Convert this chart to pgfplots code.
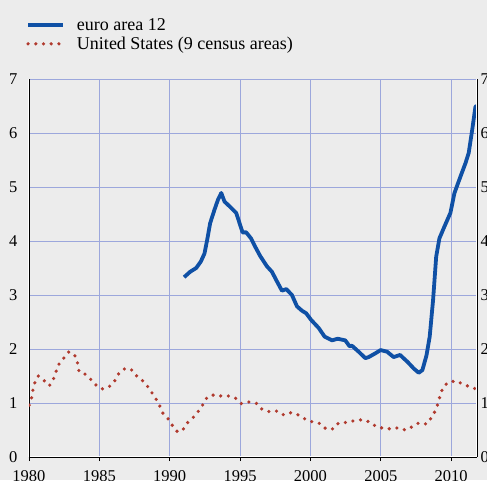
\documentclass[border=0pt]{standalone}
\usepackage{fontspec}
\setmainfont{Liberation Serif}
\usepackage{pgfplots}
\pgfplotsset{compat=1.18}
\definecolor{bg}{RGB}{236,236,236}
\definecolor{gridc}{RGB}{156,167,220}
\definecolor{euro}{RGB}{15,80,165}
\definecolor{usc}{RGB}{176,58,46}
\begin{document}
\begin{tikzpicture}
\fill[bg] (-29pt,-23pt) rectangle (458pt,457pt);
\begin{axis}[
  at={(0,0)}, anchor=south west,
  scale only axis, width=448pt, height=378pt,
  xmin=1980, xmax=2011.83, ymin=0, ymax=7,
  axis x line*=bottom, axis y line*=left,
  axis line style={black, line width=0.8pt, preaction={draw=white, line width=2.4pt}},
  xtick={1980,1985,...,2010}, ytick={0,1,...,7},
  xticklabels={\textrm{1980},\textrm{1985},\textrm{1990},\textrm{1995},\textrm{2000},\textrm{2005},\textrm{2010}},
  yticklabels={\textrm{0},\textrm{1},\textrm{2},\textrm{3},\textrm{4},\textrm{5},\textrm{6},\textrm{7}},
  grid=major, major grid style={gridc, line width=0.8pt},
  tick align=outside, major tick length=4pt,
  xtick style={black, line width=0.8pt},
  ytick style={draw=none},
  ticklabel style={font=\fontsize{16.5}{18}\selectfont},
  xticklabel style={yshift=-6pt},
  yticklabel style={xshift=-4pt},
  legend style={draw=none, fill=none, font=\fontsize{18}{21}\selectfont,
    at={(0,1)}, anchor=south west, xshift=-6pt, yshift=24pt,
    row sep=1pt, column sep=10pt},
  legend cell align=left,
  legend image code/.code={\draw[#1] (0pt,0pt) -- (35pt,0pt);},
]
\addplot[euro, line width=3.8pt, line join=round] coordinates {
(1991.02,3.33) (1991.45,3.43) (1991.88,3.50) (1992.21,3.62) (1992.47,3.77)
(1992.68,4.05) (1992.87,4.33) (1993.18,4.58) (1993.42,4.76) (1993.66,4.89)
(1993.89,4.73) (1994.30,4.63) (1994.72,4.52) (1994.96,4.33) (1995.17,4.16)
(1995.43,4.16) (1995.77,4.05) (1996.12,3.87) (1996.43,3.72) (1996.91,3.53)
(1997.26,3.43) (1997.62,3.25) (1997.97,3.08) (1998.28,3.11) (1998.68,3.00)
(1999.04,2.79) (1999.39,2.71) (1999.70,2.66) (2000.04,2.54) (2000.58,2.39)
(2001.00,2.23) (2001.53,2.16) (2001.93,2.19) (2002.47,2.16) (2002.78,2.05)
(2002.95,2.06) (2003.42,1.95) (2003.90,1.83) (2004.13,1.85) (2004.61,1.92)
(2004.98,1.98) (2005.44,1.95) (2005.91,1.85) (2006.36,1.89) (2006.90,1.76)
(2007.33,1.64) (2007.69,1.56) (2007.95,1.61) (2008.24,1.88) (2008.47,2.23)
(2008.71,2.91) (2008.93,3.71) (2009.16,4.05) (2009.52,4.27) (2009.94,4.52)
(2010.23,4.89) (2010.65,5.19) (2011.01,5.44) (2011.24,5.63) (2011.49,6.06)
(2011.72,6.49) (2011.83,6.50)
};
\addlegendentry{euro area 12}
\addplot[usc, line width=3.6pt, line cap=round, dash pattern=on 0pt off 7.7pt] coordinates {
(1980.02,0.96) (1980.19,1.10) (1980.28,1.25) (1980.43,1.39) (1980.66,1.50)
(1981.09,1.41) (1981.45,1.32) (1981.73,1.44) (1981.92,1.58) (1982.13,1.72)
(1982.47,1.83) (1982.84,1.95) (1983.29,1.87) (1983.46,1.73) (1983.56,1.58)
(1983.91,1.55) (1984.34,1.45) (1984.72,1.34) (1985.19,1.26) (1985.69,1.30)
(1986.07,1.40) (1986.33,1.53) (1986.76,1.63) (1987.23,1.63) (1987.61,1.51)
(1988.04,1.42) (1988.39,1.32) (1988.73,1.19) (1989.03,1.07) (1989.30,0.94)
(1989.53,0.80) (1989.91,0.70) (1990.22,0.57) (1990.57,0.46) (1990.97,0.52)
(1991.28,0.64) (1991.69,0.74) (1992.07,0.86) (1992.38,0.98) (1992.66,1.11)
(1993.14,1.15) (1993.63,1.13) (1994.20,1.13) (1994.67,1.09) (1995.08,0.99)
(1995.65,1.02) (1996.19,0.99) (1996.57,0.88) (1997.07,0.84) (1997.62,0.85)
(1998.09,0.78) (1998.61,0.82) (1999.13,0.78) (1999.63,0.70) (2000.15,0.65)
(2000.68,0.62) (2001.10,0.52) (2001.60,0.52) (2002.00,0.63) (2002.55,0.64)
(2003.09,0.67) (2003.66,0.69) (2004.20,0.65) (2004.68,0.56) (2005.23,0.53)
(2005.75,0.52) (2006.20,0.54) (2006.74,0.50) (2007.22,0.56) (2007.69,0.63)
(2008.26,0.61) (2008.59,0.73) (2008.88,0.86) (2009.07,1.00) (2009.21,1.14)
(2009.40,1.28) (2009.75,1.38) (2010.32,1.41) (2010.85,1.35) (2011.30,1.30)
(2011.77,1.26)
};
\addlegendentry{United States (9 census areas)}
\end{axis}
\begin{axis}[
  at={(0,0)}, anchor=south west,
  scale only axis, width=448pt, height=378pt,
  xmin=1980, xmax=2011.83, ymin=0, ymax=7,
  axis y line*=right, axis x line=none,
  axis line style={black, line width=0.8pt, preaction={draw=white, line width=2.4pt}},
  ytick={0,1,...,7}, ytick style={draw=none},
  yticklabels={\textrm{0},\textrm{1},\textrm{2},\textrm{3},\textrm{4},\textrm{5},\textrm{6},\textrm{7}},
  yticklabel style={font=\fontsize{16.5}{18}\selectfont, xshift=0pt},
]
\addplot[draw=none] coordinates {(1980,0) (2011,7)};
\end{axis}
\pgfresetboundingbox
\path[use as bounding box] (-29pt,-23pt) rectangle (458pt,457pt);
\end{tikzpicture}
\end{document}
